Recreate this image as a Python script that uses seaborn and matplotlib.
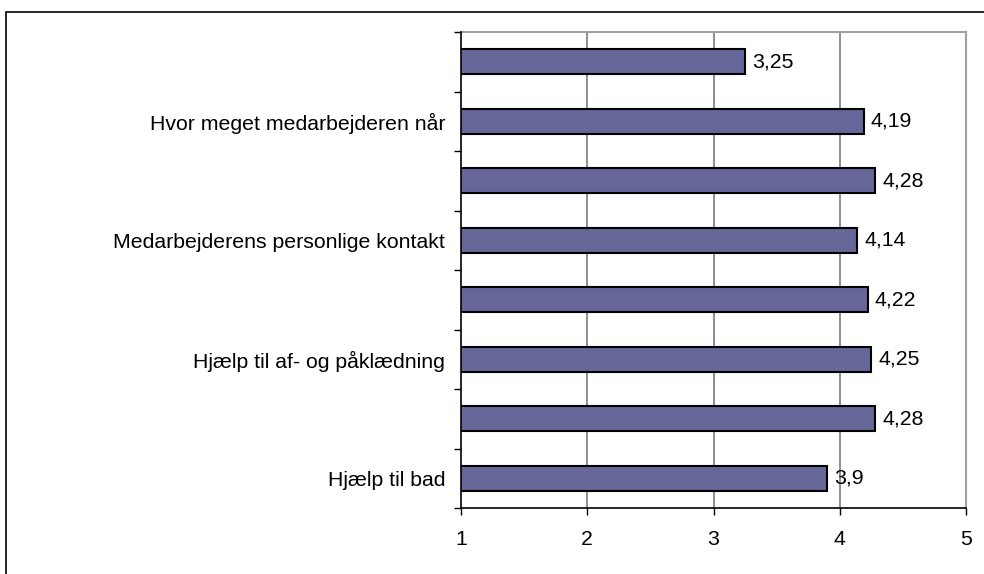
import matplotlib
matplotlib.use("Agg")
import matplotlib.pyplot as plt
import seaborn as sns
import pandas as pd
from matplotlib.patches import Rectangle
from matplotlib.ticker import FixedLocator

# Data (top to bottom)
labels = ["", "Hvor meget medarbejderen når", "", "Medarbejderens personlige kontakt",
          "", "Hjælp til af- og påklædning", "", "Hjælp til bad"]
values = [3.25, 4.19, 4.28, 4.14, 4.22, 4.25, 4.28, 3.9]
value_text = ["3,25", "4,19", "4,28", "4,14", "4,22", "4,25", "4,28", "3,9"]
x_ticks = [1, 2, 3, 4, 5]

ids = [f"c{i}" for i in range(len(values))]
df = pd.DataFrame({"id": ids, "value": values})

sns.set_style("white")
plt.rcParams["font.family"] = ["Liberation Sans", "DejaVu Sans"]
plt.rcParams["text.color"] = "black"
plt.rcParams["xtick.color"] = "black"
plt.rcParams["ytick.color"] = "black"
plt.rcParams["xtick.labelcolor"] = "black"
plt.rcParams["ytick.labelcolor"] = "black"
FS = 15.3

fig = plt.figure(figsize=(9.84, 5.74), dpi=100)
ax = fig.add_axes([461/984, 1-508/574, (966-461)/984, (508-32)/574])

sns.barplot(data=df, y="id", x="value", orient="h", color="#666699", saturation=1,
            edgecolor="black", linewidth=1.5, width=0.42, ax=ax, zorder=3)

ax.set_xlim(1, 5)
ax.set_ylim(len(values)-0.5, -0.5)
ax.set_xticks(x_ticks)
ax.set_xticklabels([str(t) for t in x_ticks], fontsize=FS, color="black")
ax.set_yticks(range(len(values)))
ax.set_yticklabels(labels, fontsize=FS, color="black")
ax.yaxis.set_minor_locator(FixedLocator([i-0.5 for i in range(len(values)+1)]))
ax.tick_params(axis="y", which="major", length=0, pad=11.5)
ax.tick_params(axis="y", which="minor", length=5, width=1, color="black", direction="out", left=True)
ax.tick_params(axis="x", which="major", length=5, width=1, color="black", direction="out", pad=10.5, bottom=True)
ax.set_xlabel("")
ax.set_ylabel("")

for x in x_ticks[1:]:
    ax.axvline(x, color="#707070", linewidth=1.1, zorder=1)

for side in ["top", "right"]:
    ax.spines[side].set_color("#a0a0a0")
    ax.spines[side].set_linewidth(1.5)
for side in ["left", "bottom"]:
    ax.spines[side].set_color("black")
    ax.spines[side].set_linewidth(1.2)
    ax.spines[side].set_zorder(4)

ax.bar_label(ax.containers[0], labels=value_text, padding=5, fontsize=FS, color="black")

fig.patches.append(Rectangle((6/984, -0.2), 2, 1-12/574+0.2, transform=fig.transFigure,
                             fill=False, edgecolor="black", linewidth=1.2, zorder=0))

fig.savefig("out.png", dpi=100)
